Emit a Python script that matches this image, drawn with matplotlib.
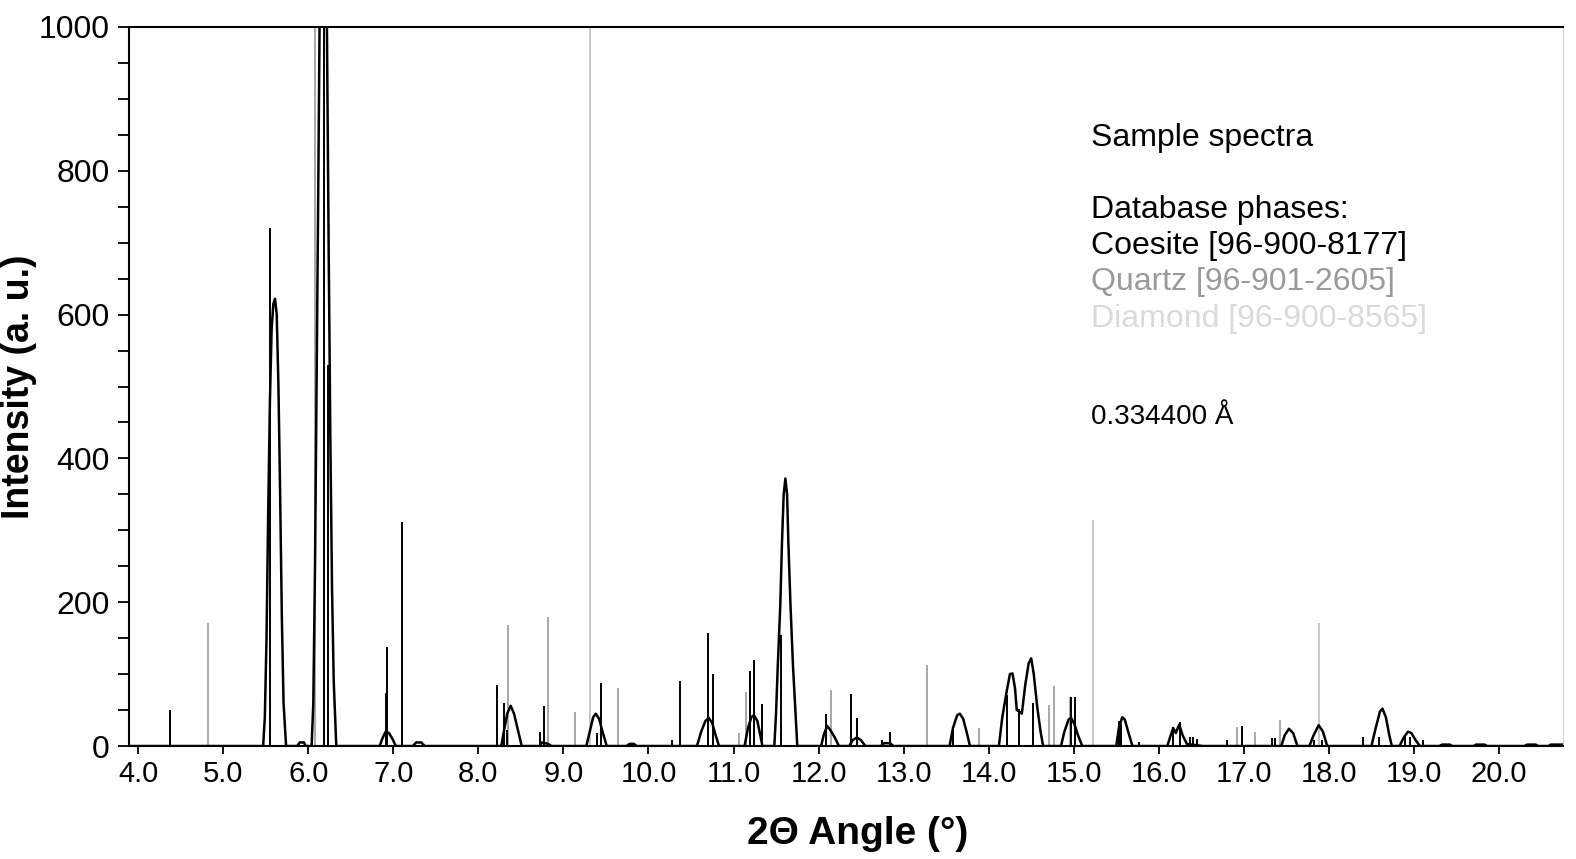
import matplotlib
matplotlib.use('Agg')
import matplotlib.pyplot as plt
from matplotlib.ticker import MultipleLocator
import numpy as np

sample_x = [3.89, 5.47, 5.49, 5.51, 5.53, 5.55, 5.57, 5.59, 5.61, 5.63, 5.65, 5.67, 5.69, 5.71, 5.74,
            5.87, 5.90, 5.95, 5.97,
            6.04, 6.06, 6.08, 6.10, 6.12, 6.14, 6.16, 6.18, 6.20, 6.22, 6.24, 6.26, 6.28, 6.30, 6.33,
            6.84, 6.87, 6.91, 6.95, 6.99, 7.03,
            7.23, 7.27, 7.33, 7.37,
            8.27, 8.30, 8.34, 8.38, 8.42, 8.46, 8.51,
            8.72, 8.75, 8.82, 8.86,
            9.27, 9.31, 9.35, 9.38, 9.42, 9.46, 9.51,
            9.74, 9.78, 9.83, 9.86,
            10.57, 10.62, 10.67, 10.71, 10.75, 10.79, 10.83,
            11.13, 11.17, 11.21, 11.24, 11.28, 11.31, 11.34,
            11.48, 11.50, 11.52, 11.55, 11.57, 11.59, 11.61, 11.63, 11.645, 11.67, 11.70, 11.73, 11.75,
            12.03, 12.06, 12.10, 12.14, 12.19, 12.24,
            12.36, 12.40, 12.45, 12.50, 12.55,
            12.73, 12.77, 12.84, 12.88,
            13.54, 13.58, 13.63, 13.66, 13.70, 13.74, 13.78,
            14.12, 14.16, 14.21, 14.25, 14.28, 14.31, 14.33, 14.36, 14.39, 14.43, 14.47, 14.50,
            14.53, 14.57, 14.61, 14.64,
            14.85, 14.89, 14.94, 14.97, 15.01, 15.05, 15.10,
            15.50, 15.53, 15.57, 15.60, 15.64, 15.69,
            16.10, 16.14, 16.17, 16.20, 16.24, 16.28, 16.33, 16.52,
            17.44, 17.48, 17.53, 17.58, 17.63,
            17.77, 17.82, 17.88, 17.93, 17.98,
            18.50, 18.55, 18.60, 18.63, 18.67, 18.71, 18.74,
            18.83, 18.88, 18.93, 18.97, 19.02, 19.07,
            19.30, 19.33, 19.42, 19.45,
            19.70, 19.73, 19.83, 19.86,
            20.30, 20.33, 20.43, 20.46,
            20.58, 20.61, 20.76]
sample_y = [0, 0, 40, 150, 330, 480, 580, 615, 622, 600, 500, 350, 180, 60, 0,
            0, 5, 5, 0,
            0, 60, 250, 520, 800, 1100, 1350, 1400, 1300, 1000, 700, 430, 220, 90, 0,
            0, 10, 20, 18, 10, 0,
            0, 5, 5, 0,
            0, 20, 45, 56, 45, 25, 0,
            0, 5, 3, 0,
            0, 20, 40, 45, 38, 20, 0,
            0, 3, 3, 0,
            0, 20, 35, 39, 32, 15, 0,
            0, 25, 40, 43, 35, 18, 0,
            0, 45, 110, 196, 283, 350, 372, 350, 283, 196, 110, 45, 0,
            0, 15, 28, 22, 12, 0,
            0, 8, 12, 8, 0,
            0, 4, 4, 0,
            0, 25, 43, 45, 38, 20, 0,
            0, 40, 75, 100, 101, 80, 50, 48, 45, 85, 115, 122,
            100, 55, 20, 0,
            0, 20, 37, 39, 30, 15, 0,
            0, 25, 40, 37, 20, 0,
            0, 15, 25, 18, 30, 15, 3, 0,
            0, 15, 24, 18, 0,
            0, 15, 29, 20, 0,
            0, 25, 48, 52, 40, 15, 0,
            0, 12, 20, 18, 8, 0,
            0, 2, 2, 0,
            0, 2, 2, 0,
            0, 2, 2, 0,
            0, 2, 2]

# database stick patterns
coesite_pos = [4.38, 5.55, 6.18, 6.23, 6.92, 6.93, 7.10, 8.22, 8.30, 8.34, 8.73, 8.77, 9.40, 9.44,
               10.28, 10.37, 10.70, 10.76, 11.19, 11.24, 11.34, 11.56, 12.09, 12.38, 12.45, 12.75,
               12.84, 13.58, 14.22, 14.36, 14.52, 14.97, 15.02, 15.53, 15.56, 15.77, 16.17, 16.25,
               16.37, 16.40, 16.45, 16.80, 16.98, 17.33, 17.37, 17.83, 17.92, 18.40, 18.59, 18.90,
               18.95, 19.11]
coesite_int = [50, 720, 1500, 530, 74, 138, 312, 85, 60, 22, 20, 56, 18, 87,
               8, 91, 157, 100, 104, 120, 58, 155, 45, 73, 39, 8,
               19, 25, 71, 51, 60, 68, 68, 35, 30, 6, 27, 33,
               12, 12, 10, 8, 28, 11, 11, 9, 9, 12, 12, 12,
               12, 9]

quartz_pos = [4.82, 6.08, 8.35, 8.82, 9.14, 9.64, 11.07, 11.15, 12.15, 13.27, 13.89, 14.71, 14.77,
              14.96, 16.92, 17.13, 17.43]
quartz_int = [171, 1500, 168, 180, 47, 81, 18, 75, 78, 113, 25, 57, 84,
              68, 27, 19, 36]

diamond_pos = [9.31, 15.23, 17.88]
diamond_int = [1000, 315, 171]

x_ticks = np.arange(4, 21, 1)
x_ticklabels = ['%.1f' % t for t in x_ticks]

plt.rcParams['font.family'] = ['Liberation Sans', 'DejaVu Sans']

fig = plt.figure(figsize=(15.76, 8.59), dpi=100)
ax = fig.add_axes([0.0819, 0.1315, 0.9099, 0.8371])

ax.vlines(diamond_pos, 0, diamond_int, color='#c4c4c4', linewidth=1.3, zorder=2)
ax.vlines(quartz_pos, 0, quartz_int, color='#9a9a9a', linewidth=1.2, zorder=2)
ax.vlines(coesite_pos, 0, coesite_int, color='black', linewidth=1.4, zorder=3)
ax.plot(sample_x, sample_y, color='black', linewidth=1.8, zorder=4)

ax.set_xlim(3.894, 20.753)
ax.set_ylim(0, 1000)
ax.set_xticks(x_ticks)
ax.set_xticklabels(x_ticklabels, fontsize=21)
ax.yaxis.set_major_locator(MultipleLocator(200))
ax.yaxis.set_minor_locator(MultipleLocator(50))
ax.tick_params(axis='y', which='both', direction='out', length=8, width=1.3, labelsize=23, pad=6)
ax.tick_params(axis='x', which='major', direction='out', length=6, width=1.3, pad=4)

for side in ['left', 'bottom', 'top']:
    ax.spines[side].set_linewidth(1.5)
ax.spines['right'].set_color('#d0d0d0')

ax.set_xlabel('2Θ Angle (°)', fontweight='bold', fontsize=28)
ax.set_ylabel('Intensity (a. u.)', fontweight='bold', fontsize=27)
ax.xaxis.set_label_coords(0.508, -0.097)
ax.yaxis.set_label_coords(-0.064, 0.5)

# legend text block
tx = 0.671
ax.text(tx, 0.845, 'Sample spectra', transform=ax.transAxes, fontsize=23, color='black', va='center')
ax.text(tx, 0.745, 'Database phases:', transform=ax.transAxes, fontsize=23, color='black', va='center')
ax.text(tx, 0.695, 'Coesite [96-900-8177]', transform=ax.transAxes, fontsize=23, color='black', va='center')
ax.text(tx, 0.645, 'Quartz [96-901-2605]', transform=ax.transAxes, fontsize=23, color='#9a9a9a', va='center')
ax.text(tx, 0.594, 'Diamond [96-900-8565]', transform=ax.transAxes, fontsize=23, color='#dadada', va='center')
ax.text(tx, 0.457, '0.334400 Å', transform=ax.transAxes, fontsize=20, color='black', va='center')

fig.savefig('out.png', dpi=100)
plt.close(fig)
